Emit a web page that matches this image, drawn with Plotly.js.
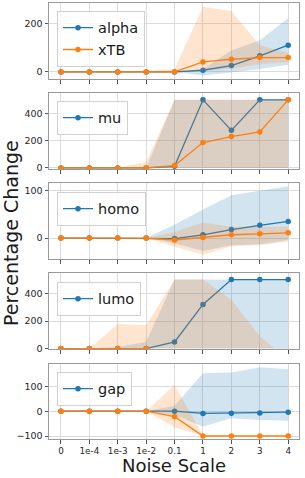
<!DOCTYPE html>
<html>
<head>
<meta charset="utf-8">
<script src="https://cdn.plot.ly/plotly-3.0.1.min.js"></script>
<style>html,body{margin:0;padding:0;background:#fff;}#chart{width:305px;height:478px;}</style>
</head>
<body>
<div id="chart"></div>
<script>
const categories = ['0','1e-4','1e-3','1e-2','0.1','1','2','3','4'];
const panelNames = ['alpha','mu','homo','lumo','gap'];
const secondName = 'xTB';

// panel 1: alpha
const alphaMean = [0,0,0,0,0,7,26,66,110];
const alphaLo   = [0,0,0,0,0,-15,-2,12,30];
const alphaHi   = [0,0,0,0,0,12,88,130,220];
const xtbAlphaMean = [0,0,0,0,0,41,52,59,59];
const xtbAlphaLo   = [0,0,0,0,0,5,12,33,40];
const xtbAlphaHi   = [0,0,0,5,12,268,250,110,78];

// panel 2: mu
const muMean = [0,0,0,0,12,500,276,500,500];
const muLo   = [0,0,0,0,0,0,0,0,0];
const muHi   = [0,0,0,0,500,500,500,500,500];
const xtbMuMean = [0,0,0,0,17,186,230,264,500];
const xtbMuLo   = [0,0,0,0,0,0,0,0,0];
const xtbMuHi   = [0,0,0,45,500,500,500,500,500];

// panel 3: homo
const homoMean = [0,0,0,0,-1,7,18,27,35];
const homoLo   = [0,0,0,0,-11,-27,-15,-13,-4];
const homoHi   = [0,0,0,0,28,60,90,100,109];
const xtbHomoMean = [0,0,0,0,-4,1,7,9,11];
const xtbHomoLo   = [0,0,0,0,-18,-35,-17,-15,-7];
const xtbHomoHi   = [0,0,0,0,13,33,24,24,24];

// panel 4: lumo
const lumoMean = [0,0,0,0,48,320,500,500,500];
const lumoLo   = [0,0,0,0,0,0,0,0,0];
const lumoHi   = [0,0,12,50,500,500,500,500,500];
const xtbLumoMean = [0,0,0,0,null,null,null,null,null];
const xtbLumoLo   = [0,0,0,0,0,0,0,0,0];
const xtbLumoHi   = [0,0,178,169,500,500,354,89,-80];

// panel 5: gap
const gapMean = [0,0,0,0,0,-9,-8,-7,-4];
const gapLo   = [0,0,0,0,-15,-62,-28,-35,-39];
const gapHi   = [0,0,0,0,22,153,156,177,169];
const xtbGapMean = [0,0,0,0,-22,-100,-100,-100,-100];
const xtbGapLo   = [0,0,0,0,-65,-100,-100,-100,-100];
const xtbGapHi   = [0,0,0,0,106,-98,-100,-100,-100];

const yRanges = [[-29,283],[-8,550],[-44,116],[-3,548],[-112,190]];
const yDticks = [200,200,100,200,100];

const panels = [
  [alphaMean,alphaLo,alphaHi,xtbAlphaMean,xtbAlphaLo,xtbAlphaHi],
  [muMean,muLo,muHi,xtbMuMean,xtbMuLo,xtbMuHi],
  [homoMean,homoLo,homoHi,xtbHomoMean,xtbHomoLo,xtbHomoHi],
  [lumoMean,lumoLo,lumoHi,xtbLumoMean,xtbLumoLo,xtbLumoHi],
  [gapMean,gapLo,gapHi,xtbGapMean,xtbGapLo,xtbGapHi]
];

const BLUE = '#1f77b4', ORANGE = '#ff7f0e';
const BLUE_F = 'rgba(31,119,180,0.2)', ORANGE_F = 'rgba(255,127,14,0.2)';
const FONT = 'DejaVu Sans, sans-serif';

const H = 478, T = 3, B = 39;
const plotH = H - T - B;
const panelPix = [[3,79],[93,169],[183,259],[273,349],[364,439]];
const legendTop = [10.7,100.7,191.7,281.7,371.7];

const traces = [];
const layout = {
  width: 305, height: 478,
  margin: {l: 49, r: 6, t: T, b: B},
  paper_bgcolor: '#fff', plot_bgcolor: '#fff',
  font: {family: FONT, color: '#262626', size: 9},
  annotations: [],
  showlegend: true
};

const revCats = categories.slice().reverse();
panels.forEach((p, i) => {
  const n = i === 0 ? '' : String(i + 1);
  const xa = 'x' + n, ya = 'y' + n;
  const lg = i === 0 ? 'legend' : 'legend' + (i + 1);
  const [m, lo, hi, m2, lo2, hi2] = p;
  traces.push({x: categories.concat(revCats), y: hi.concat(lo.slice().reverse()),
    xaxis: xa, yaxis: ya, type: 'scatter', mode: 'lines', fill: 'toself',
    fillcolor: BLUE_F, line: {width: 0, color: BLUE_F}, hoverinfo: 'skip', showlegend: false});
  traces.push({x: categories, y: m, xaxis: xa, yaxis: ya, type: 'scatter', mode: 'lines+markers',
    name: panelNames[i], legend: lg, line: {color: BLUE, width: 1.3}, marker: {color: BLUE, size: 5.5}});
  traces.push({x: categories.concat(revCats), y: hi2.concat(lo2.slice().reverse()),
    xaxis: xa, yaxis: ya, type: 'scatter', mode: 'lines', fill: 'toself',
    fillcolor: ORANGE_F, line: {width: 0, color: ORANGE_F}, hoverinfo: 'skip', showlegend: false});
  traces.push({x: categories, y: m2, xaxis: xa, yaxis: ya, type: 'scatter', mode: 'lines+markers',
    name: secondName, legend: lg, showlegend: i === 0,
    line: {color: ORANGE, width: 1.3}, marker: {color: ORANGE, size: 5.5}});

  const [top, bot] = panelPix[i];
  const d0 = (H - B - bot) / plotH, d1 = (H - B - top) / plotH;
  layout['xaxis' + n] = {
    type: 'category', categoryorder: 'array', categoryarray: categories,
    range: [-0.42, 8.38], anchor: ya, domain: [0, 1],
    showgrid: true, gridcolor: '#dcdcdc', gridwidth: 1,
    showline: true, mirror: true, linecolor: '#9a9a9a', linewidth: 1,
    ticks: 'outside', ticklen: 3.5, tickcolor: '#555', tickwidth: 1,
    showticklabels: i === 4, tickfont: {family: FONT, size: 8.8, color: '#262626'},
    zeroline: false, fixedrange: true
  };
  layout['yaxis' + n] = {
    range: yRanges[i], dtick: yDticks[i], tick0: 0, anchor: xa, domain: [d0, d1],
    showgrid: true, gridcolor: '#dcdcdc', gridwidth: 1,
    showline: true, mirror: true, linecolor: '#9a9a9a', linewidth: 1,
    ticks: 'outside', ticklen: 3.5, tickcolor: '#555', tickwidth: 1,
    tickfont: {family: FONT, size: 9.5, color: '#262626'},
    zeroline: false, fixedrange: true
  };
  layout[lg] = {
    x: 8 / 250, xanchor: 'left', y: (H - B - legendTop[i]) / plotH, yanchor: 'top',
    bgcolor: 'rgba(255,255,255,0.8)', bordercolor: '#d0d0d0', borderwidth: 1,
    font: {family: FONT, size: 14.5, color: '#1a1a1a'}, itemwidth: 30,
    tracegroupgap: 0
  };
});

layout.annotations.push({
  text: 'Percentage Change', xref: 'paper', yref: 'paper',
  x: (11 - 49) / 250, y: (H - B - 233) / plotH, xanchor: 'center', yanchor: 'middle',
  textangle: -90, showarrow: false, font: {family: FONT, size: 19, color: '#1a1a1a'}
});
layout.annotations.push({
  text: 'Noise Scale', xref: 'paper', yref: 'paper',
  x: 0.5, y: (H - B - 465) / plotH, xanchor: 'center', yanchor: 'middle',
  showarrow: false, font: {family: FONT, size: 18, color: '#1a1a1a'}
});

Plotly.newPlot('chart', traces, layout, {displayModeBar: false, staticPlot: true});
</script>
</body>
</html>
